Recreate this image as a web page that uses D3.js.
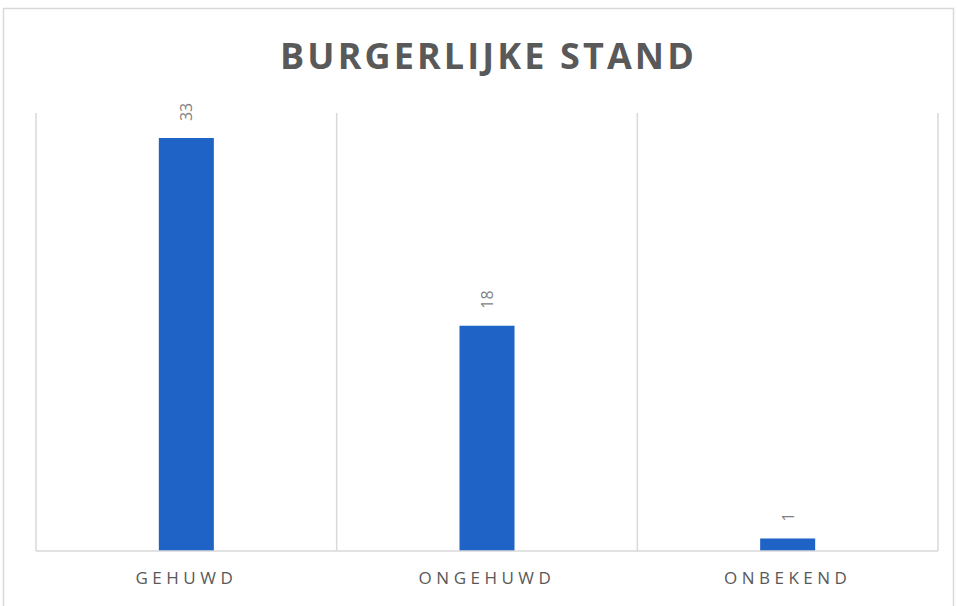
<!DOCTYPE html>
<html>
<head>
<meta charset="utf-8">
<script src="https://cdn.jsdelivr.net/npm/d3@7"></script>
<style>
  body { margin: 0; background: #fff; }
  text { font-family: "Open Sans", sans-serif; }
</style>
</head>
<body>
<div id="chart"></div>
<script>
// categories and values
var categories = ["GEHUWD", "ONGEHUWD", "ONBEKEND"];
var values = [33, 18, 1];
var yMax = 35;

var W = 957, H = 606;
var margin = { top: 113, right: 19, bottom: 55, left: 36 };
var plotW = W - margin.left - margin.right;
var plotH = H - margin.top - margin.bottom;

var svg = d3.select("#chart")
  .append("svg")
  .attr("width", W)
  .attr("height", H);

// chart border
svg.append("rect")
  .attr("x", 3.5)
  .attr("y", 8.5)
  .attr("width", 950)
  .attr("height", 610)
  .attr("fill", "#fff")
  .attr("stroke", "#d9d9d9")
  .attr("stroke-width", 1.5);

// title
svg.append("text")
  .attr("x", W / 2 + 10)
  .attr("y", 69)
  .attr("text-anchor", "middle")
  .attr("fill", "#595959")
  .style("font-size", "36px")
  .style("font-weight", "bold")
  .style("letter-spacing", "3.1px")
  .text("BURGERLIJKE STAND");

var g = svg.append("g")
  .attr("transform", "translate(" + margin.left + "," + margin.top + ")");

var xScale = d3.scaleBand()
  .domain(categories)
  .range([0, plotW])
  .paddingInner(0.817)
  .paddingOuter(0.4085);

var catScale = d3.scaleBand()
  .domain(categories)
  .range([0, plotW]);

var yScale = d3.scaleLinear()
  .domain([0, yMax])
  .range([plotH, 0]);

// vertical separators between categories
var seps = [0].concat(categories.map(function (c) { return catScale(c) + catScale.bandwidth(); }));
g.selectAll(".sep")
  .data(seps)
  .enter()
  .append("line")
  .attr("class", "sep")
  .attr("x1", function (d) { return d; })
  .attr("x2", function (d) { return d; })
  .attr("y1", 0)
  .attr("y2", plotH)
  .attr("stroke", "#d9d9d9")
  .attr("stroke-width", 1.5);

// bars
g.selectAll(".bar")
  .data(values)
  .enter()
  .append("rect")
  .attr("class", "bar")
  .attr("x", function (d, i) { return xScale(categories[i]); })
  .attr("y", function (d) { return yScale(d); })
  .attr("width", xScale.bandwidth())
  .attr("height", function (d) { return plotH - yScale(d); })
  .attr("fill", "#1f63c6");

// baseline
g.append("line")
  .attr("x1", 0)
  .attr("x2", plotW)
  .attr("y1", plotH)
  .attr("y2", plotH)
  .attr("stroke", "#d9d9d9")
  .attr("stroke-width", 1.5);

// value labels (rotated)
g.selectAll(".val")
  .data(values)
  .enter()
  .append("text")
  .attr("class", "val")
  .attr("transform", function (d, i) {
    var cx = xScale(categories[i]) + xScale.bandwidth() / 2;
    return "translate(" + (cx + 6) + "," + (yScale(d) - 17) + ") rotate(-90)";
  })
  .attr("text-anchor", "start")
  .attr("fill", "#7f7f7f")
  .style("font-size", "16px")
  .text(function (d) { return d; });

// category axis labels
var xAxis = g.append("g")
  .attr("transform", "translate(0," + plotH + ")")
  .call(d3.axisBottom(catScale).tickSize(0).tickPadding(21));
xAxis.select(".domain").remove();
xAxis.selectAll("text")
  .attr("fill", "#595959")
  .style("font-family", "'Open Sans', sans-serif")
  .style("font-size", "17px")
  .style("letter-spacing", "4.5px");
</script>
</body>
</html>
